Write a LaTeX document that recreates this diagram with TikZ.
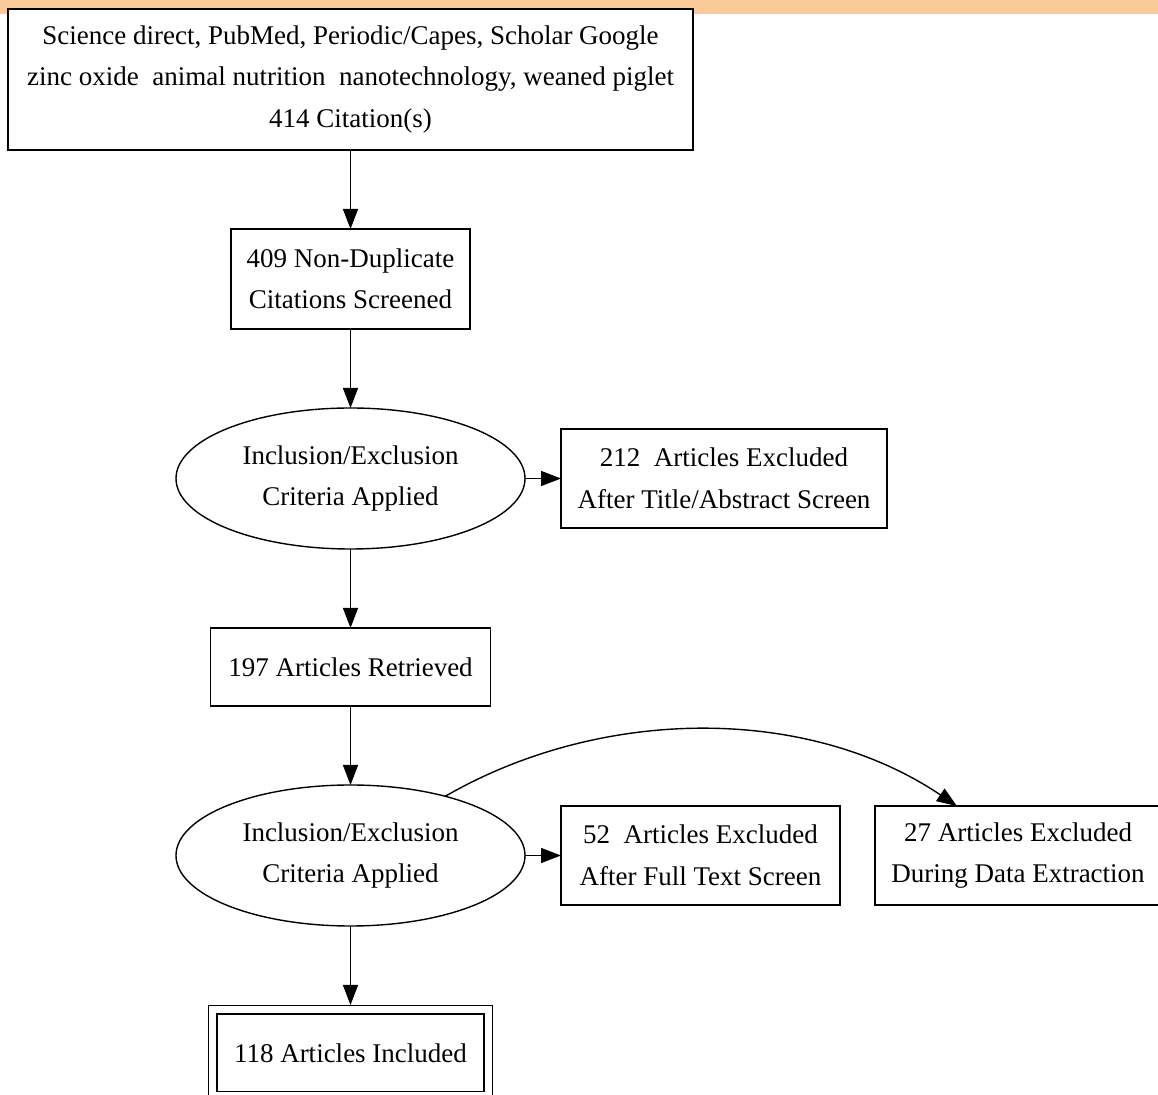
\documentclass[tikz,border=0pt]{standalone}
\usepackage{fontspec}
\setmainfont{Liberation Serif}
\usepackage{tikz}
\usetikzlibrary{shapes,shapes.geometric,arrows,arrows.meta,positioning}
\definecolor{bandorange}{RGB}{250,203,152}

\begin{document}
\begin{tikzpicture}[node distance=39.5pt and 18pt, auto,
        box/.style={rectangle, draw, fill=white, line width=0.7pt, inner sep=0pt, outer sep=0pt, align=center, font=\fontsize{13.5pt}{20.75pt}\selectfont},
        criteria/.style={ellipse, draw, line width=0.7pt, inner sep=0pt, outer sep=0pt, align=center, minimum width=174.5pt, minimum height=70.5pt, font=\fontsize{13.5pt}{20.75pt}\selectfont},
        finalbox/.style={box, double, double distance=3.6pt, outer sep=2.4pt},
        arrow/.style={-{Triangle[length=10pt,width=7.5pt]}, line width=0.7pt}]
        \useasboundingbox (0,0) rectangle (579pt,-547.5pt);
        \clip (0,0) rectangle (579pt,-547.5pt);
        \fill[bandorange] (0,0) rectangle (579pt,-7pt);

        \node[box, minimum width=342.5pt, minimum height=70.5pt] (source) at (175.25pt,-39.75pt) {Science direct, PubMed, Periodic/Capes, Scholar Google\\zinc oxide\ \ animal nutrition\ \ nanotechnology, weaned piglet\\414 Citation(s)};
        \node[box, minimum width=119.5pt, minimum height=50pt, below=of source] (nondup) {409 Non-Duplicate\\Citations Screened};
        \node[criteria, below=of nondup] (screen1) {Inclusion/Exclusion\\Criteria Applied};
        \node[box, minimum width=163pt, minimum height=49.5pt, right=of screen1] (excltitle) {212\ \ Articles Excluded\\After Title/Abstract Screen};
        \node[box, minimum width=140pt, minimum height=39pt, below=of screen1] (retrieved) {197\ Articles Retrieved};
        \node[criteria, below=of retrieved] (screen2) {Inclusion/Exclusion\\Criteria Applied};
        \node[box, minimum width=139.5pt, minimum height=49.5pt, right=of screen2] (exclfull) {52\ \ Articles Excluded\\After Full Text Screen};
        \node[box, minimum width=143pt, minimum height=49.5pt, right=17.5pt of exclfull] (excldata) {27 Articles Excluded\\During Data Extraction};
        \node[finalbox, minimum width=137.8pt, minimum height=43pt, below=of screen2] (included) {118 Articles Included};

        \draw[arrow] (source) -- (nondup);
        \draw[arrow] (nondup) -- (screen1);
        \draw[arrow] (screen1) -- (excltitle);
        \draw[arrow] (screen1) -- (retrieved);
        \draw[arrow] (retrieved) -- (screen2);
        \draw[arrow] (screen2) -- (exclfull);
        \draw[arrow] (screen2.32) to[out=30, in=146, looseness=0.9] (excldata.141);
        \draw[arrow] (screen2) -- (included);
    \end{tikzpicture}
\end{document}
